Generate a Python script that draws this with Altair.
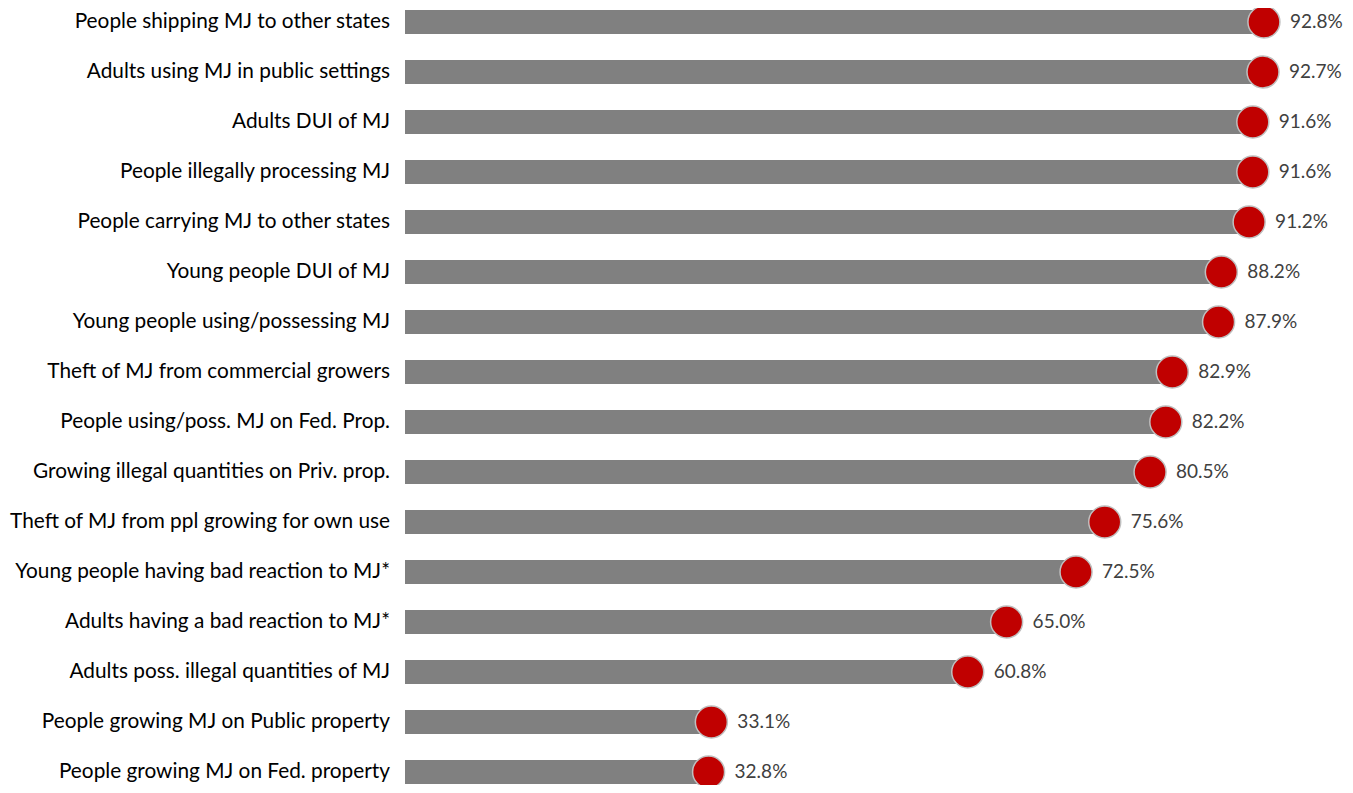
import altair as alt
import pandas as pd

categories = [
    "People shipping MJ to other states",
    "Adults using MJ in public settings",
    "Adults DUI of MJ",
    "People illegally processing MJ",
    "People carrying MJ to other states",
    "Young people DUI of MJ",
    "Young people using/possessing MJ",
    "Theft of MJ from commercial growers",
    "People using/poss. MJ on Fed. Prop.",
    "Growing illegal quantities on Priv. prop.",
    "Theft of MJ from ppl growing for own use",
    "Young people having bad reaction to MJ*",
    "Adults having a bad reaction to MJ*",
    "Adults poss. illegal quantities of MJ",
    "People growing MJ on Public property",
    "People growing MJ on Fed. property",
]
values = [92.8, 92.7, 91.6, 91.6, 91.2, 88.2, 87.9, 82.9, 82.2, 80.5,
          75.6, 72.5, 65.0, 60.8, 33.1, 32.8]

df = pd.DataFrame({
    "cat": categories,
    "val": values,
    "idx": list(range(len(categories))),
})
df["lbl"] = df["val"].map(lambda v: f"{v:.1f}%")

W, H = 940, 777
xs = alt.Scale(domain=[0, 101.56], nice=False, zero=False)
ys = alt.Scale(domain=[-0.28, 15.26], reverse=True, nice=False, zero=False)

x = alt.X("val:Q", scale=xs, axis=None)
y = alt.Y("idx:Q", scale=ys, axis=None)

base = alt.Chart(df)

bars = base.mark_rule(color="#808080", strokeWidth=24, strokeCap="butt").encode(
    x=alt.X("zero:Q", scale=xs, axis=None), x2="val:Q", y=y
).transform_calculate(zero="0")

dots = base.mark_point(shape="circle", filled=True, size=1024, color="#C00000",
                       stroke="#BFBFBF", strokeWidth=1.5, opacity=1).encode(x=x, y=y)

pct = base.mark_text(align="left", baseline="middle", dx=26, fontSize=19,
                     font="Lato", color="#404040").encode(x=x, y=y, text="lbl:N")

cats = base.mark_text(align="right", baseline="middle", dx=-15, fontSize=20.8,
                      font="Lato", color="#000000").encode(
    x=alt.X("zero:Q", scale=xs, axis=None), y=y, text="cat:N"
).transform_calculate(zero="0")

chart = alt.layer(bars, dots, pct, cats).properties(
    width=W, height=H,
    autosize=alt.AutoSizeParams(type="none"),
    padding={"left": 397, "top": 0, "right": 0, "bottom": 0},
).configure_view(stroke=None)

chart.save("out.html", embed_options={"renderer": "svg", "actions": False})
